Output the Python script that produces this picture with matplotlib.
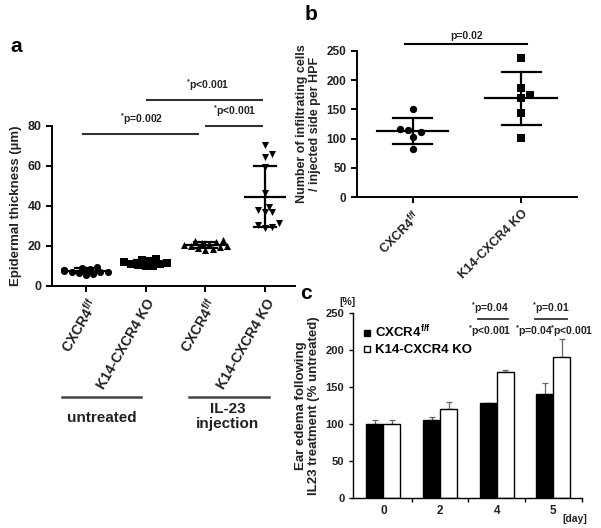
import numpy as np
import matplotlib
matplotlib.use("Agg")
from matplotlib import pyplot as plt
from matplotlib.lines import Line2D

plt.rcParams['font.family'] = ['Liberation Sans', 'DejaVu Sans']
plt.rcParams['font.weight'] = 'bold'
plt.rcParams['axes.labelweight'] = 'bold'
plt.rcParams['mathtext.default'] = 'regular'

TXT = '#222222'

# panel a: epidermal thickness (um)
a_groups = ["CXCR4$^{f/f}$", "K14-CXCR4 KO", "CXCR4$^{f/f}$", "K14-CXCR4 KO"]
a_vals = [
    [6.0, 7.0, 8.0, 9.0, 5.5, 7.5, 8.5, 6.5, 9.5, 7.0, 8.0, 6.8],
    [10.0, 11.0, 12.0, 13.0, 11.5, 12.5, 10.5, 11.0, 12.0, 13.5, 9.8, 12.0],
    [18.0, 19.0, 20.0, 21.0, 22.0, 23.0, 20.5, 19.5, 21.5, 18.5, 22.5, 20.0],
    [70.5, 64.6, 65.8, 59.6, 46.3, 39.6, 37.1, 37.1, 37.9, 31.6, 28.8, 29.3, 30.4],
]
a_markers = ['o', 's', '^', 'v']

# panel b: infiltrating cells
b_groups = ["CXCR4$^{f/f}$", "K14-CXCR4 KO"]
b_vals = [
    [151, 117, 111, 103, 114, 83],
    [238, 187, 170, 174, 143, 101],
]
b_markers = ['o', 's']

# panel c: ear edema
c_days = ["0", "2", "4", "5"]
c_ff = [100, 106, 128, 141]
c_ff_err = [5, 3, 1, 15]
c_ko = [100, 121, 170, 191]
c_ko_err = [5, 9, 3, 24]


def swarm(ax, x0, values, size_px):
    # simple beeswarm: spread overlapping points sideways in pixel space
    trans = ax.transData
    placed = []
    xs = {}
    order = np.argsort(values)
    for i in order:
        px0, py = trans.transform((x0, values[i]))
        for k in [0, 1, -1, 2, -2, 3, -3, 4, -4, 5, -5, 6, -6]:
            px = px0 + k * size_px * 0.6
            if all((px - qx) ** 2 + (py - qy) ** 2 >= size_px ** 2 for qx, qy in placed):
                break
        placed.append((px, py))
        xs[i] = trans.inverted().transform((px, py))[0]
    return [xs[i] for i in range(len(values))]


def mean_sd(ax, x, vals, half_mean=0.34, half_cap=0.19):
    m = np.mean(vals)
    s = np.std(vals, ddof=1)
    ax.plot([x - half_mean, x + half_mean], [m, m], color='black', lw=1.6, zorder=4)
    ax.plot([x, x], [m - s, m + s], color='black', lw=1.6, zorder=4)
    for y in (m - s, m + s):
        ax.plot([x - half_cap, x + half_cap], [y, y], color='black', lw=1.6, zorder=4)


def style_axis(ax, lw=1.4):
    for side in ('top', 'right'):
        ax.spines[side].set_visible(False)
    for side in ('left', 'bottom'):
        ax.spines[side].set_linewidth(lw)
    ax.tick_params(width=lw, length=4, colors='black', labelcolor=TXT)


def bold_ticks(ax):
    for t in ax.get_xticklabels() + ax.get_yticklabels():
        t.set_fontweight('bold')


fig = plt.figure(figsize=(6.01, 5.28), dpi=100)

# ---------------- panel a ----------------
ax = fig.add_axes([0.0865, 0.4589, 0.404, 0.3025])
ax.set_xlim(-0.57, 3.5)
ax.set_ylim(0, 80)
style_axis(ax)
for i, vals in enumerate(a_vals):
    xs = swarm(ax, i, vals, 6.0)
    ax.scatter(xs, vals, marker=a_markers[i], s=26, color='black', linewidths=0, zorder=3)
    mean_sd(ax, i, vals)
ax.set_xticks(range(4))
ax.set_xticklabels(a_groups, rotation=60, ha='right', va='top', rotation_mode='anchor',
                   fontsize=10)
ax.set_yticks([0, 20, 40, 60, 80])
ax.tick_params(axis='y', labelsize=9)
bold_ticks(ax)
ax.set_ylabel("Epidermal thickness (µm)", fontsize=9.5, color=TXT, labelpad=4)

# significance lines
for x1, x2, y, ty, tx, lab in [(-0.05, 1.87, 76, 79.5, 0.93, "$^{*}$p=0.002"),
                              (1.03, 2.95, 93, 96.5, 2.04, "$^{*}$p<0.001"),
                              (2.02, 2.95, 80, 83.5, 2.5, "$^{*}$p<0.001")]:
    ax.plot([x1, x2], [y, y], color='#333333', lw=1.5, clip_on=False)
    ax.text(tx, ty, lab, ha='center', va='bottom', fontsize=7.5, color=TXT)

# treatment group brackets below the labels
bt = ax.get_xaxis_transform()
ax.plot([-0.4, 0.93], [-0.695, -0.695], transform=bt, color='#444444', lw=1.8, clip_on=False)
ax.plot([1.73, 3.07], [-0.695, -0.695], transform=bt, color='#444444', lw=1.8, clip_on=False)
ax.text(0.27, -0.83, "untreated", transform=bt, ha='center', va='center', fontsize=11, color=TXT)
ax.text(2.37, -0.82, "IL-23\ninjection", transform=bt, ha='center', va='center', fontsize=11,
        color=TXT, linespacing=1.1)

# ---------------- panel b ----------------
bx = fig.add_axes([0.594, 0.6263, 0.366, 0.2777])
bx.set_xlim(-0.51, 1.51)
bx.set_ylim(0, 250)
style_axis(bx)
for i, vals in enumerate(b_vals):
    xs = swarm(bx, i, vals, 7.0)
    bx.scatter(xs, vals, marker=b_markers[i], s=28, color='black', linewidths=0, zorder=3)
    mean_sd(bx, i, vals, half_mean=0.33, half_cap=0.18)
bx.set_xticks(range(2))
bx.set_xticklabels(b_groups, rotation=45, ha='right', va='top', rotation_mode='anchor',
                   fontsize=9)
bx.set_yticks([0, 50, 100, 150, 200, 250])
bx.tick_params(axis='y', labelsize=8.5)
bold_ticks(bx)
bx.set_ylabel("Number of infiltrating cells\n/ injected side per HPF", fontsize=9,
              color=TXT, labelpad=4, linespacing=1.1)
bx.plot([-0.07, 1.05], [261, 261], color='black', lw=1.5, clip_on=False)
bx.text(0.5, 266, "p=0.02", ha='center', va='bottom', fontsize=7.5, color=TXT)

# ---------------- panel c ----------------
cx = fig.add_axes([0.5879, 0.0568, 0.380, 0.3498])
cx.set_xlim(-0.53, 3.5)
cx.set_ylim(0, 250)
style_axis(cx, lw=1.0)
x = np.arange(len(c_days))
w = 0.3
cx.bar(x - w / 2, c_ff, w, color='black', edgecolor='black', lw=1, zorder=2)
cx.bar(x + w / 2, c_ko, w, color='white', edgecolor='black', lw=1, zorder=2)
cx.errorbar(x - w / 2, c_ff, yerr=[np.zeros(4), c_ff_err], fmt='none', ecolor='#666666',
            elinewidth=0.9, capsize=2.5, capthick=0.9, zorder=1)
cx.errorbar(x + w / 2, c_ko, yerr=[np.zeros(4), c_ko_err], fmt='none', ecolor='#666666',
            elinewidth=0.9, capsize=2.5, capthick=0.9, zorder=1)
cx.set_yticks([0, 50, 100, 150, 200, 250])
cx.tick_params(axis='y', labelsize=8, length=3)
cx.set_xticks([0.5, 1.5, 2.5, 3.5])
cx.set_xticklabels([])
cx.tick_params(axis='x', length=3)
bold_ticks(cx)
for i, d in enumerate(c_days):
    cx.text(i, -9, d, ha='center', va='top', fontsize=8.5, color=TXT)
cx.set_ylabel("Ear edema following\nIL23 treatment (% untreated)", fontsize=9.5, color=TXT,
              labelpad=4, linespacing=1.1)
handles = [Line2D([], [], marker='s', ls='none', color='black', markersize=5),
           Line2D([], [], marker='s', ls='none', markerfacecolor='white', markeredgecolor='black',
                  markersize=5)]
cx.legend(handles, ["CXCR4$^{f/f}$", "K14-CXCR4 KO"], loc='upper left', bbox_to_anchor=(0.02, 0.97),
          frameon=False, handlelength=0.6, handletextpad=0.3, labelspacing=0.25, fontsize=9.5,
          borderaxespad=0)
for x1, x2, tx, lab in [(1.67, 2.2, 1.88, "$^{*}$p=0.04"), (2.68, 3.24, 2.96, "$^{*}$p=0.01")]:
    cx.plot([x1, x2], [242, 242], color='#333333', lw=1.3, clip_on=False)
    cx.text(tx, 246, lab, ha='center', va='bottom', fontsize=7.5, color=TXT)
for tx, lab in [(1.88, "$^{*}$p<0.001"), (2.66, "$^{*}$p=0.04"), (3.33, "$^{*}$p<0.001")]:
    cx.text(tx, 226, lab, ha='center', va='center', fontsize=7.5, color=TXT)
fig.text(348 / 601, 1 - 302 / 528, "[%]", ha='center', va='center', fontsize=7.5, color=TXT)
fig.text(575 / 601, 1 - 519 / 528, "[day]", ha='center', va='center', fontsize=7.5, color=TXT)

# panel letters
fig.text(0.017, 0.911, "a", fontsize=15, ha='left', va='center')
fig.text(0.507, 0.972, "b", fontsize=15, ha='left', va='center')
fig.text(0.500, 0.445, "c", fontsize=15, ha='left', va='center')

fig.savefig("out.png", dpi=100)
